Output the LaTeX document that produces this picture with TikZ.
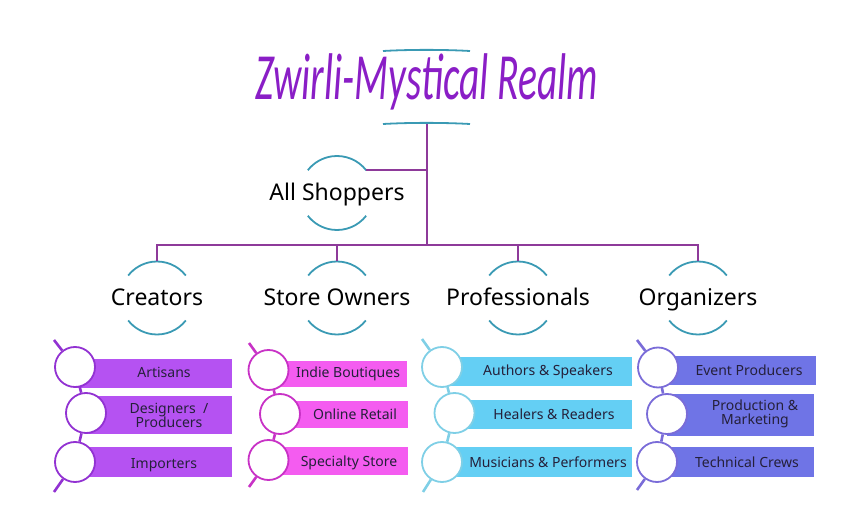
\documentclass[tikz,border=0pt]{standalone}
\usepackage{fontspec}
\setmainfont{Noto Sans}
\newfontfamily\titlefont{Carlito}
\definecolor{treeline}{HTML}{8E3A9A}
\definecolor{arcteal}{HTML}{3A9AB4}
\definecolor{titlecol}{HTML}{8A1EC6}
\definecolor{boxtext}{HTML}{25203A}
\definecolor{fillA}{HTML}{B552F2}\definecolor{edgeA}{HTML}{9232D2}
\definecolor{fillB}{HTML}{F45CF0}\definecolor{edgeB}{HTML}{C832C6}
\definecolor{fillC}{HTML}{64CFF4}\definecolor{edgeC}{HTML}{7FCFE6}
\definecolor{fillD}{HTML}{6F74E6}\definecolor{edgeD}{HTML}{7A6CD8}
\tikzset{
  tree/.style={draw=treeline,line width=2pt},
  arcline/.style={draw=arcteal,line width=1.8pt},
  cattext/.style={font=\fontsize{23}{26}\selectfont,text=black,inner sep=0pt,anchor=base},
  itemtext/.style={font=\fontsize{14}{14}\selectfont,text=boxtext,align=center,inner sep=0pt,anchor=base},
  itemtwo/.style={font=\fontsize{14}{14}\selectfont,text=boxtext,align=center,inner sep=0pt},
  knob/.style={circle,fill=white,line width=1.8pt,minimum size=40pt,inner sep=0pt},
  spine/.style={line width=2.6pt},
}
\begin{document}
\begin{tikzpicture}[x=1pt,y=-1pt]
\useasboundingbox (0,0) rectangle (846,510);
% title
\node[font=\titlefont\itshape\fontsize{66}{70}\selectfont,text=titlecol,xscale=0.6,inner sep=0pt] (title) at (427,82) {Zwirli-Mystical Realm};
\coordinate (tl1) at (383,51); \coordinate (tr1) at (470,51);
\coordinate (tl2) at (383,124); \coordinate (tr2) at (470,124);
\draw[arcline] (tl1) .. controls (410,49.5) and (443,49.5) .. (tr1);
\draw[arcline] (tl2) .. controls (410,122.5) and (443,122.5) .. (tr2);
\coordinate (tb) at (427,124);
\coordinate (bus) at (427,245);
% all shoppers
\coordinate (allc) at (337,193);
\node[cattext] (all) at (337,200.5) {All Shoppers};
\draw[arcline] ([shift={(38:37pt)}]allc) arc[start angle=38,end angle=142,radius=37pt];
\draw[arcline] ([shift={(-38:37pt)}]allc) arc[start angle=-38,end angle=-142,radius=37pt];
\coordinate (allR) at ([shift={(38:37pt)}]allc);
% categories
\foreach \c/\x/\t in {c1/157/Creators,c2/337/Store Owners,c3/518/Professionals,c4/698/Organizers}{
  \coordinate (\c c) at (\x,298);
  \node[cattext] (\c) at (\x,306) {\t};
  \draw[arcline] ([shift={(38:36.5pt)}]\c c) arc[start angle=38,end angle=142,radius=36.5pt];
  \draw[arcline] ([shift={(-38:36.5pt)}]\c c) arc[start angle=-38,end angle=-142,radius=36.5pt];
  \coordinate (\c top) at ([yshift=36.5pt]\c c);
}
% tree connectors
\draw[tree] (tb) -- (bus);
\draw[tree] (tb |- allR) -- (allR);
\draw[tree] (c1top) |- (bus) -| (c4top);
\draw[tree] (c2top) -- (c2top |- bus);
\draw[tree] (c3top) -- (c3top |- bus);
% ---------- item lists ----------
% Creators
\path[fill=fillA] (75,359) rectangle (232,388);
\path[fill=fillA] (86,396) rectangle (232,434);
\path[fill=fillA] (75,447) rectangle (232,477);
\node[itemtext] (a1) at (164,378) {Artisans};
\node[itemtwo] (a2) at (169,415) {Designers~ /\\Producers};
\node[itemtext] (a3) at (164,468) {Importers};
\coordinate (at) at (54,340); \coordinate (ab) at (54,492);
\node[knob,draw=edgeA] (ka1) at (75,367) {};
\node[knob,draw=edgeA] (ka2) at (86,413) {};
\node[knob,draw=edgeA] (ka3) at (75,462) {};
% Store owners
\path[fill=fillB] (268.5,361) rectangle (407,387);
\path[fill=fillB] (280,401) rectangle (408,428);
\path[fill=fillB] (268.5,447) rectangle (408,475);
\node[itemtext] (b1) at (348,378) {Indie Boutiques};
\node[itemtext] (b2) at (355,419) {Online Retail};
\node[itemtext] (b3) at (349,466) {Specialty Store};
\coordinate (bt) at (249,343); \coordinate (bb) at (249,487);
\node[knob,draw=edgeB] (kb1) at (268.5,370) {};
\node[knob,draw=edgeB] (kb2) at (280,414) {};
\node[knob,draw=edgeB] (kb3) at (268.5,460) {};
% Professionals
\path[fill=fillC] (442,357) rectangle (632,386);
\path[fill=fillC] (454.5,400) rectangle (632,429);
\path[fill=fillC] (442,447) rectangle (632,477);
\node[itemtext] (p1) at (548,376) {Authors \& Speakers};
\node[itemtext] (p2) at (554,419) {Healers \& Readers};
\node[itemtext] (p3) at (548,467) {Musicians \& Performers};
\coordinate (pt) at (422,339); \coordinate (pb) at (423,492);
\node[knob,draw=edgeC] (kp1) at (442,367) {};
\node[knob,draw=edgeC] (kp2) at (454.5,413) {};
\node[knob,draw=edgeC] (kp3) at (442,462) {};
% Organizers
\path[fill=fillD] (658,356) rectangle (816,385);
\path[fill=fillD] (667,394) rectangle (814,436);
\path[fill=fillD] (657,447) rectangle (814,477);
\node[itemtext] (o1) at (749,376) {Event Producers};
\node[itemtwo] (o2) at (755,414) {Production \&\\Marketing};
\node[itemtext] (o3) at (747,467) {Technical Crews};
\coordinate (ot) at (637,340); \coordinate (ob) at (637,490);
\node[knob,draw=edgeD] (ko1) at (658,367.5) {};
\node[knob,draw=edgeD] (ko2) at (667,414) {};
\node[knob,draw=edgeD] (ko3) at (657,462) {};
% spines
\draw[spine,draw=edgeA] (at) -- (ka1) (ka1) -- (ka2) (ka2) -- (ka3) (ka3) -- (ab);
\draw[spine,draw=edgeB] (bt) -- (kb1) (kb1) -- (kb2) (kb2) -- (kb3) (kb3) -- (bb);
\draw[spine,draw=edgeC] (pt) -- (kp1) (kp1) -- (kp2) (kp2) -- (kp3) (kp3) -- (pb);
\draw[spine,draw=edgeD] (ot) -- (ko1) (ko1) -- (ko2) (ko2) -- (ko3) (ko3) -- (ob);
\end{tikzpicture}
\end{document}
